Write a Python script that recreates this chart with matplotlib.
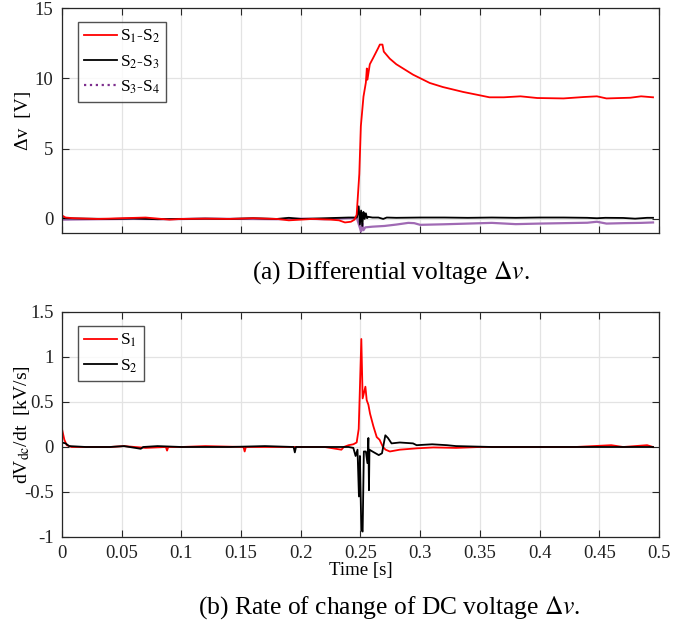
import numpy as np
import matplotlib
matplotlib.use("Agg")
import matplotlib.pyplot as plt
from matplotlib.lines import Line2D

plt.rcParams["font.family"] = ["Liberation Serif", "DejaVu Serif"]
plt.rcParams["mathtext.fontset"] = "stix"
plt.rcParams["axes.unicode_minus"] = False

# (a) differential voltage between stacks [V]
t_s12 = [0, 0.003, 0.01, 0.03, 0.05, 0.07, 0.09, 0.1, 0.12, 0.14, 0.16, 0.18, 0.19, 0.2,
         0.21, 0.225, 0.232, 0.237, 0.242, 0.245, 0.2468, 0.249, 0.2503, 0.2525, 0.2545,
         0.2553, 0.2558, 0.2578, 0.2606, 0.2648, 0.2662, 0.2684, 0.2695, 0.2745, 0.280,
         0.294, 0.308, 0.319, 0.336, 0.350, 0.358, 0.370, 0.384, 0.398, 0.420, 0.437,
         0.448, 0.456, 0.476, 0.485, 0.495]
dv_s12 = [0.25, 0.1, 0.05, 0.0, 0.05, 0.1, -0.05, 0.0, 0.02, 0.0, 0.05, 0.0, -0.1, -0.05,
          0.0, -0.05, -0.1, -0.25, -0.2, -0.05, 0.3, 3.2, 6.6, 8.7, 9.7,
          10.7, 9.9, 11.0, 11.45, 12.15, 12.4, 12.4, 11.9, 11.4, 11.0,
          10.26, 9.67, 9.38, 9.03, 8.79, 8.65, 8.65, 8.72, 8.6, 8.57, 8.67,
          8.72, 8.57, 8.62, 8.72, 8.65]

t_s23 = [0, 0.02, 0.04, 0.06, 0.08, 0.1, 0.12, 0.14, 0.16, 0.18, 0.19, 0.2, 0.22, 0.24,
         0.247, 0.2485, 0.2495, 0.2505, 0.2515, 0.2525, 0.2535, 0.2545, 0.2555, 0.2565,
         0.26, 0.265, 0.269, 0.272, 0.28, 0.3, 0.32, 0.34, 0.36, 0.38, 0.4, 0.42, 0.44,
         0.448, 0.455, 0.47, 0.48, 0.49, 0.495]
dv_s23 = [0.05, 0.02, 0.0, 0.03, -0.02, 0.0, 0.02, 0.0, 0.05, 0.0, 0.08, 0.0, 0.05, 0.1,
          0.1, 0.9, -0.4, 0.6, -0.5, 0.5, 0.0, 0.4, 0.05, 0.15,
          0.1, 0.1, 0.0, 0.1, 0.08, 0.1, 0.1, 0.08, 0.1, 0.08, 0.1, 0.1, 0.08,
          0.05, 0.08, 0.07, 0.02, 0.08, 0.08]

t_s34 = [0, 0.03, 0.06, 0.09, 0.12, 0.15, 0.18, 0.2, 0.22, 0.24, 0.247, 0.249, 0.2505,
         0.2515, 0.2525, 0.254, 0.26, 0.27, 0.28, 0.29, 0.295, 0.3, 0.32, 0.34, 0.36,
         0.38, 0.4, 0.42, 0.44, 0.448, 0.456, 0.47, 0.485, 0.495]
dv_s34 = [-0.05, -0.02, 0.0, -0.02, 0.02, 0.0, -0.02, 0.02, -0.02, 0.05, 0.05, -0.5, -0.9,
          -0.3, -0.8, -0.6, -0.55, -0.5, -0.4, -0.28, -0.3, -0.42, -0.38, -0.33, -0.28,
          -0.37, -0.33, -0.3, -0.27, -0.2, -0.33, -0.3, -0.28, -0.25]

# (b) dVdc/dt per stack [kV/s]
t_s1 = [0, 0.002, 0.004, 0.008, 0.02, 0.04, 0.052, 0.07, 0.087, 0.088, 0.089, 0.1, 0.12,
        0.152, 0.153, 0.154, 0.17, 0.2, 0.22, 0.234, 0.236, 0.24, 0.244, 0.2468, 0.2485,
        0.2507, 0.2518, 0.2541, 0.2552, 0.2566, 0.258, 0.2608, 0.2636, 0.266, 0.2688,
        0.271, 0.2746, 0.2829, 0.297, 0.311, 0.33, 0.35, 0.4, 0.43, 0.46, 0.47, 0.49, 0.495]
dvdt_s1 = [0.2, 0.08, 0.02, 0.0, 0.0, 0.0, 0.01, -0.01, 0.0, -0.04, 0.0, 0.0, 0.01,
           0.0, -0.05, 0.0, 0.0, 0.0, 0.0, -0.03, 0.0, 0.02, 0.03, 0.05, 0.2,
           1.2, 0.54, 0.67, 0.52, 0.47, 0.37, 0.23, 0.11, 0.08, 0.0,
           -0.03, -0.05, -0.03, -0.015, -0.005, -0.01, 0.0, 0.0, 0.0, 0.02, 0.0, 0.02, 0.0]

t_s2 = [0, 0.003, 0.006, 0.02, 0.04, 0.052, 0.066, 0.068, 0.08, 0.1, 0.14, 0.17, 0.194,
        0.195, 0.196, 0.22, 0.24, 0.244, 0.2459, 0.2475, 0.2487, 0.2495, 0.2507, 0.2518,
        0.2528, 0.2545, 0.2558, 0.2566, 0.2571, 0.2575, 0.26, 0.2653, 0.268, 0.2708,
        0.273, 0.276, 0.2829, 0.294, 0.297, 0.31, 0.3225, 0.33, 0.36, 0.4, 0.45, 0.495]
dvdt_s2 = [0.05, 0.04, 0.01, 0.0, 0.0, 0.01, -0.02, 0.0, 0.01, 0.0, 0.0, 0.01, 0.0,
           -0.06, 0.0, 0.0, 0.0, -0.01, -0.1, -0.03, -0.55, -0.1, -0.92, -0.94,
           -0.05, -0.05, -0.18, 0.1, -0.48, -0.03, -0.05, -0.09, -0.07, 0.13,
           0.1, 0.04, 0.05, 0.04, 0.02, 0.03, 0.02, 0.01, 0.0, 0.0, 0.0, 0.0]

x_ticks = np.arange(0, 0.501, 0.05)
x_ticklabels = ["0", "0.05", "0.1", "0.15", "0.2", "0.25", "0.3", "0.35", "0.4", "0.45", "0.5"]
purple = "#a06ab4"
purple_dark = "#7e2f8e"
frame = "#262626"
lw = 1.3

LEGEND_KW = dict(loc="upper left", fontsize=12.5, frameon=True, fancybox=False,
                 edgecolor=frame, handlelength=1.9, handletextpad=0.15, borderpad=0.35,
                 labelspacing=0.45, borderaxespad=0)


def style_axes(ax):
    ax.set_xlim(0, 0.5)
    ax.set_xticks(x_ticks)
    ax.grid(True, color="#e3e3e3", linewidth=0.9)
    ax.set_axisbelow(True)
    ax.tick_params(direction="in", top=True, right=True, length=5, width=0.8,
                   labelsize=13.5, colors=frame, labelcolor="#222222", pad=6)
    for s in ax.spines.values():
        s.set_color(frame)
        s.set_linewidth(0.9)


fig = plt.figure(figsize=(6.91, 6.26), dpi=100)
ax1 = fig.add_axes([0.0897, 0.6278, 0.864, 0.3594])
ax2 = fig.add_axes([0.0897, 0.1422, 0.864, 0.3594])

# top panel
ax1.plot(t_s34, dv_s34, color=purple, linewidth=lw + 0.3)
ax1.plot(t_s23, dv_s23, color="black", linewidth=lw)
ax1.plot(t_s12, dv_s12, color="red", linewidth=lw)
style_axes(ax1)
ax1.set_xticklabels([])
ax1.set_ylim(-1, 15)
ax1.set_yticks([0, 5, 10, 15])
ax1.set_ylabel("Δv  [V]", fontsize=14)
ax1.yaxis.set_label_coords(-0.05, 0.5)
handles1 = [Line2D([], [], color="red", linewidth=lw),
            Line2D([], [], color="black", linewidth=lw),
            Line2D([], [], color=purple_dark, linewidth=lw + 0.3, linestyle=":")]
ax1.legend(handles1, ["S$_1$-S$_2$", "S$_2$-S$_3$", "S$_3$-S$_4$"],
           bbox_to_anchor=(0.027, 0.938), **LEGEND_KW)

# bottom panel
ax2.plot(t_s1, dvdt_s1, color="red", linewidth=lw)
ax2.plot(t_s2, dvdt_s2, color="black", linewidth=lw)
style_axes(ax2)
ax2.set_xticklabels(x_ticklabels)
ax2.set_ylim(-1, 1.5)
ax2.set_yticks([-1, -0.5, 0, 0.5, 1, 1.5])
ax2.set_yticklabels(["-1", "-0.5", "0", "0.5", "1", "1.5"])
ax2.set_xlabel("Time [s]", fontsize=13.5, labelpad=0)
ax2.set_ylabel("dV$_{\\rm dc}$/dt  [kV/s]", fontsize=14)
ax2.yaxis.set_label_coords(-0.05, 0.5)
ax2.legend(["S$_1$", "S$_2$"], bbox_to_anchor=(0.027, 0.938), **LEGEND_KW)

fig.text(0.566, 0.564, "(a) Differential voltage $\\Delta v$.", ha="center", va="center",
         fontsize=18.4)
fig.text(0.564, 0.029, "(b) Rate of change of DC voltage $\\Delta v$.", ha="center",
         va="center", fontsize=18.4)

fig.savefig("out.png", dpi=100, facecolor="white")
